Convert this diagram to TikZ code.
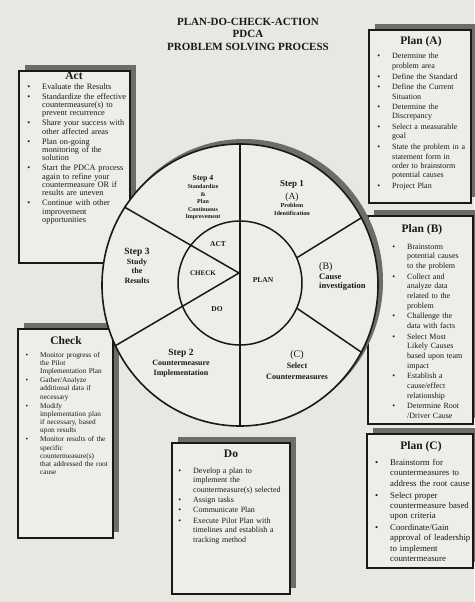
\documentclass[tikz,border=0pt]{standalone}
\usepackage{fontspec}
\setmainfont{Liberation Serif}
\usepackage{enumitem}
\usetikzlibrary{positioning, shadows, shapes.geometric}

\definecolor{paper}{RGB}{233,231,226}
\definecolor{card}{RGB}{239,237,233}
\definecolor{shade}{RGB}{108,108,104}
\definecolor{ink}{RGB}{25,25,25}
\setlist[itemize]{label=\textbullet, nosep, leftmargin=15pt, labelwidth=3pt, labelsep=12pt}

\begin{document}
\begin{tikzpicture}[
x=1pt, y=-1pt,
panel/.style={rectangle, draw=ink, line width=1.6pt, fill=card, inner sep=0, anchor=north west,
  drop shadow={shadow xshift=6pt, shadow yshift=6pt, fill=shade, opacity=1}},
boxhead/.style={font=\fontsize{11.5}{13}\selectfont\bfseries, text=ink, inner sep=0},
bullets/.style={anchor=north west, inner sep=0, text=ink, text width=110pt, align=left},
spoke/.style={draw=ink, line width=1.5pt},
wheeltext/.style={text=ink, inner sep=0, align=center}
]
\useasboundingbox (0,0) rectangle (474,602);
\fill[paper] (0,0) rectangle (474,602);

%Title
\node[wheeltext, font=\fontsize{11}{12.5}\selectfont\bfseries] (title) at (248,34) {PLAN-DO-CHECK-ACTION\\PDCA\\PROBLEM SOLVING PROCESS};

%Boxes
\node[panel, minimum width=111pt, minimum height=192pt] (act)   at (18,70)   {};
\node[panel, minimum width=102pt, minimum height=173pt] (planA) at (368,29)  {};
\node[panel, minimum width=105pt, minimum height=208pt] (planB) at (367,215) {};
\node[panel, minimum width=106pt, minimum height=134pt] (planC) at (366,433) {};
\node[panel, minimum width=118pt, minimum height=151pt] (do)    at (171,442) {};
\node[panel, minimum width=95pt,  minimum height=209pt] (check) at (17,328)  {};

\node[boxhead] (acthead)   at (74,76)   {Act};
\node[boxhead] (planAhead) at (421,42)  {Plan (A)};
\node[boxhead] (planBhead) at (422,230) {Plan (B)};
\node[boxhead] (planChead) at (421,447) {Plan (C)};
\node[boxhead] (dohead)    at (231,454) {Do};
\node[boxhead] (checkhead) at (66,341)  {Check};

%Lists
\node[bullets, font=\fontsize{8.3}{8.4}\selectfont] (actlist) at (27,80.5) {%
\begin{itemize}[itemsep=1.5pt]
\item Evaluate the Results
\item Standardize the effective\\countermeasure(s) to\\prevent recurrence
\item Share your success with\\other affected areas
\item Plan on-going\\monitoring of the\\solution
\item Start the PDCA process\\again to refine your\\countermeasure OR if\\results are uneven
\item Continue with other\\improvement\\opportunities
\end{itemize}};

\node[bullets, font=\fontsize{8}{9.3}\selectfont] (planAlist) at (377,49.5) {%
\begin{itemize}[itemsep=1.4pt]
\item Determine the\\problem area
\item Define the Standard
\item Define the Current\\Situation
\item Determine the\\Discrepancy
\item Select a measurable\\goal
\item State the problem in a\\statement form in\\order to brainstorm\\potential causes
\item Project Plan
\end{itemize}};

\node[bullets, font=\fontsize{8}{9.6}\selectfont] (planBlist) at (392,239.5) {%
\begin{itemize}[itemsep=1.2pt]
\item Brainstorm\\potential causes\\to the problem
\item Collect and\\analyze data\\related to the\\problem
\item Challenge the\\data with facts
\item Select Most\\Likely Causes\\based upon team\\impact
\item Establish a\\cause/effect\\relationship
\item Determine Root\\/Driver Cause
\end{itemize}};

\node[bullets, font=\fontsize{8.8}{10.3}\selectfont] (planClist) at (375,455) {%
\begin{itemize}[itemsep=1.6pt]
\item Brainstorm for\\countermeasures to\\address the root cause
\item Select proper\\countermeasure based\\upon criteria
\item Coordinate/Gain\\approval of leadership\\to implement\\countermeasure
\end{itemize}};

\node[bullets, font=\fontsize{8}{9.6}\selectfont] (dolist) at (178,463.5) {%
\begin{itemize}[itemsep=0.6pt]
\item Develop a plan to\\implement the\\countermeasure(s) selected
\item Assign tasks
\item Communicate Plan
\item Execute Pilot Plan with\\timelines and establish a\\tracking method
\end{itemize}};

\node[bullets, font=\fontsize{7.3}{8.2}\selectfont] (checklist) at (25,348.8) {%
\begin{itemize}[itemsep=0.9pt]
\item Monitor progress of\\the Pilot\\Implementation Plan
\item Gather/Analyze\\additional data if\\necessary
\item Modify\\implementation plan\\if necessary, based\\upon results
\item Monitor results of the\\specific\\countermeasure(s)\\that addressed the root\\cause
\end{itemize}};

%Wheel
\node[ellipse, fill=shade, inner sep=0, minimum width=278pt, minimum height=284pt] (wheelshade) at (244,281) {};
\node[ellipse, draw=ink, line width=1.6pt, fill=card, inner sep=0, minimum width=276pt, minimum height=282pt] (wheel) at (240,285) {};
\node[circle, draw=ink, line width=1.5pt, inner sep=0, minimum size=124pt] (hub) at (240,283) {};
\coordinate (apex) at (239,273);

\draw[spoke] (wheel.north) -- (wheel.south);
\draw[spoke] (hub.24) -- (wheel.29);
\draw[spoke] (hub.-24) -- (wheel.-29);
\draw[spoke] (apex) -- (wheel.146);
\draw[spoke] (apex) -- (wheel.206);

%Wheel labels
\node[wheeltext, font=\fontsize{7.8}{9}\selectfont\bfseries] (step4) at (203,179) {Step 4};
\node[wheeltext, font=\fontsize{6}{7.5}\selectfont\bfseries, anchor=north] (step4txt) at (203,184.5) {Standardize\\\&\\Plan\\Continuous\\Improvement};
\node[wheeltext, font=\fontsize{9}{10}\selectfont\bfseries] (step1) at (292,184) {Step 1};
\node[wheeltext, font=\fontsize{9.5}{10}\selectfont] (stepA) at (292,197) {(A)};
\node[wheeltext, font=\fontsize{6.2}{7.3}\selectfont\bfseries, anchor=north] (step1txt) at (292,203.4) {Problem\\Identification};
\node[wheeltext, font=\fontsize{9.5}{10}\selectfont\bfseries] (step3) at (137,252) {Step 3};
\node[wheeltext, font=\fontsize{8}{9.5}\selectfont\bfseries, anchor=north] (step3txt) at (137,258.6) {Study\\the\\Results};
\node[wheeltext, font=\fontsize{9.5}{10}\selectfont\bfseries] (step2) at (181,353) {Step 2};
\node[wheeltext, font=\fontsize{8}{10}\selectfont\bfseries, anchor=north] (step2txt) at (181,359.6) {Countermeasure\\Implementation};
\node[wheeltext, font=\fontsize{10}{10}\selectfont, anchor=west] (stepB) at (319,267) {(B)};
\node[wheeltext, font=\fontsize{8.5}{9.3}\selectfont\bfseries, anchor=north west, align=left] (stepBtxt) at (319,273.4) {Cause\\investigation};
\node[wheeltext, font=\fontsize{10}{10}\selectfont] (stepC) at (297,355) {(C)};
\node[wheeltext, font=\fontsize{8.2}{11}\selectfont\bfseries, anchor=north] (stepCtxt) at (297,362.6) {Select\\Countermeasures};

\node[wheeltext, font=\fontsize{7.5}{8}\selectfont\bfseries] (actlbl)   at (218,244) {ACT};
\node[wheeltext, font=\fontsize{7}{8}\selectfont\bfseries]   (checklbl) at (203,273) {CHECK};
\node[wheeltext, font=\fontsize{7.5}{8}\selectfont\bfseries] (dolbl)    at (217,309) {DO};
\node[wheeltext, font=\fontsize{7.5}{8}\selectfont\bfseries] (planlbl)  at (263,280) {PLAN};
\end{tikzpicture}
\end{document}
